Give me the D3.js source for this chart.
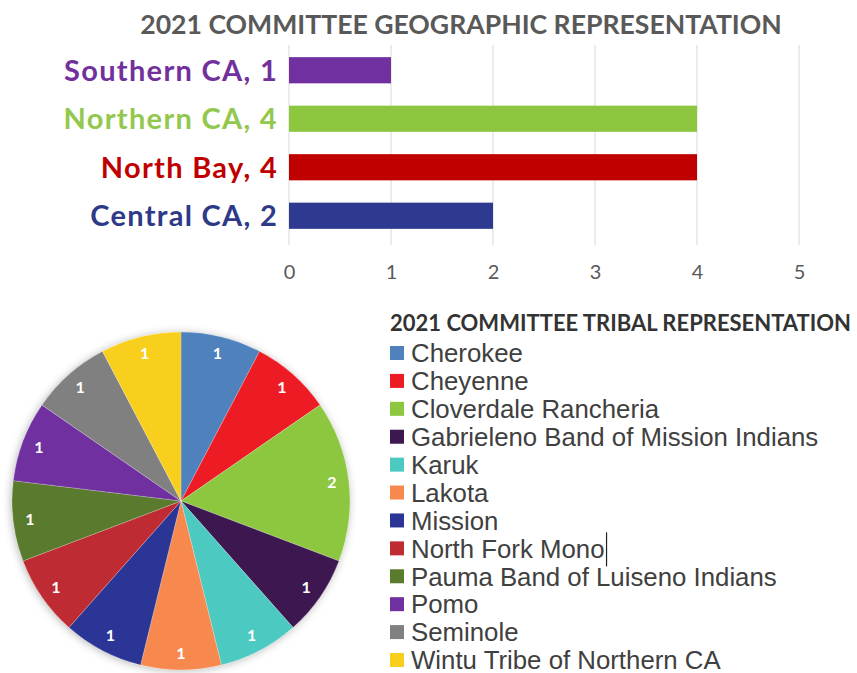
<!DOCTYPE html>
<html>
<head>
<meta charset="utf-8">
<script src="https://cdn.jsdelivr.net/npm/d3@7"></script>
<style>
  html, body { margin: 0; padding: 0; background: #fff; }
  svg { display: block; }
</style>
</head>
<body>
<svg id="chart" width="857" height="673"></svg>
<script>
// Geographic representation (bar chart)
const regions = ["Southern CA", "Northern CA", "North Bay", "Central CA"];
const regionCounts = [1, 4, 4, 2];
const regionColors = ["#7030A0", "#8DC63F", "#C00000", "#2E3A8F"];
const regionLabelColors = ["#71309C", "#92C84E", "#C00000", "#2E3A87"];
const xTicks = [0, 1, 2, 3, 4, 5];

// Tribal representation (pie chart)
const tribes = ["Cherokee", "Cheyenne", "Cloverdale Rancheria", "Gabrieleno Band of Mission Indians",
  "Karuk", "Lakota", "Mission", "North Fork Mono", "Pauma Band of Luiseno Indians", "Pomo",
  "Seminole", "Wintu Tribe of Northern CA"];
const tribeCounts = [1, 1, 2, 1, 1, 1, 1, 1, 1, 1, 1, 1];
const tribeColors = ["#4F81BD", "#ED1C24", "#8DC63F", "#3D1850", "#4CC9C0", "#F7894F",
  "#2B3595", "#BE2B33", "#5A7A2D", "#7030A0", "#808080", "#F8CF1C"];

const svg = d3.select("#chart");

// ---------- Bar chart ----------
const x = d3.scaleLinear().domain([0, 5]).range([289, 799]);
const y = d3.scaleBand().domain(regions).range([46, 240]).paddingInner(0.46).paddingOuter(0.23);

svg.append("text")
  .attr("x", 461).attr("y", 34)
  .attr("text-anchor", "middle")
  .attr("font-family", "Lato, 'Open Sans', sans-serif")
  .attr("font-weight", 700)
  .attr("font-size", 26.6)
  .attr("fill", "#595959")
  .text("2021 COMMITTEE GEOGRAPHIC REPRESENTATION");

// vertical gridlines
svg.append("g").selectAll("line").data(xTicks).join("line")
  .attr("x1", d => x(d)).attr("x2", d => x(d))
  .attr("y1", 45).attr("y2", 245)
  .attr("stroke", "#D9D9D9").attr("stroke-width", 1);

// tick labels
const xAxis = svg.append("g").attr("transform", "translate(0,265)")
  .call(d3.axisBottom(x).tickValues(xTicks).tickSize(0).tickPadding(0).tickFormat(d3.format("d")));
xAxis.select(".domain").remove();
xAxis.selectAll("text")
  .attr("font-family", "Lato, 'Open Sans', sans-serif")
  .attr("font-size", 20)
  .attr("fill", "#595959")
  .attr("dy", "0.71em");

const regionData = regions.map((r, i) => ({ r, v: regionCounts[i], c: regionColors[i], lc: regionLabelColors[i] }));

svg.append("g").selectAll("rect").data(regionData).join("rect")
  .attr("x", x(0))
  .attr("y", d => y(d.r))
  .attr("width", d => x(d.v) - x(0))
  .attr("height", y.bandwidth())
  .attr("fill", d => d.c);

svg.append("g").selectAll("text").data(regionData).join("text")
  .attr("x", 278)
  .attr("y", d => y(d.r) + y.bandwidth() / 2)
  .attr("dy", "0.36em")
  .attr("text-anchor", "end")
  .attr("font-family", "Lato, 'Open Sans', sans-serif")
  .attr("font-weight", 700)
  .attr("font-size", 29)
  .attr("letter-spacing", 1.3)
  .attr("fill", d => d.lc)
  .text(d => `${d.r}, ${d.v}`);

// ---------- Pie chart ----------
const defs = svg.append("defs");
const f = defs.append("filter").attr("id", "glow").attr("x", "-15%").attr("y", "-15%").attr("width", "130%").attr("height", "130%");
f.append("feDropShadow").attr("dx", -1).attr("dy", 1).attr("stdDeviation", 4)
  .attr("flood-color", "#000").attr("flood-opacity", 0.28);

const cx = 181, cy = 501, R = 169;
const tribeData = tribes.map((t, i) => ({ t, v: tribeCounts[i], c: tribeColors[i] }));
const pie = d3.pie().value(d => d.v).sort(null);
const arcs = pie(tribeData);
const arc = d3.arc().innerRadius(0).outerRadius(R);
const labelArc = d3.arc().innerRadius(R * 0.9).outerRadius(R * 0.9);

const pg = svg.append("g").attr("transform", `translate(${cx},${cy})`);
pg.append("circle").attr("r", R).attr("fill", "#fff").attr("filter", "url(#glow)");
pg.selectAll("path").data(arcs).join("path")
  .attr("d", arc)
  .attr("fill", d => d.data.c)
  .attr("stroke", "rgba(255,255,255,0.35)")
  .attr("stroke-width", 0.6);

pg.selectAll("text").data(arcs).join("text")
  .attr("transform", d => `translate(${labelArc.centroid(d)})`)
  .attr("text-anchor", "middle")
  .attr("dy", "0.36em")
  .attr("font-family", "Lato, 'Open Sans', sans-serif")
  .attr("font-weight", 700)
  .attr("font-size", 16)
  .attr("fill", "#fff")
  .text(d => d.data.v);

// ---------- Legend ----------
svg.append("text")
  .attr("x", 390).attr("y", 331)
  .attr("font-family", "Lato, 'Open Sans', sans-serif")
  .attr("font-weight", 700)
  .attr("font-size", 22)
  .attr("fill", "#333333")
  .text("2021 COMMITTEE TRIBAL REPRESENTATION");

const ly = d3.scalePoint().domain(tribes).range([353, 660]);
const lg = svg.append("g").selectAll("g").data(tribeData).join("g")
  .attr("transform", d => `translate(390,${ly(d.t)})`);
lg.append("rect").attr("x", 0).attr("y", -7).attr("width", 14).attr("height", 14).attr("fill", d => d.c);
lg.append("text")
  .attr("x", 21).attr("dy", "0.36em")
  .attr("font-family", "'Liberation Sans', Arial, sans-serif")
  .attr("font-size", 25.8)
  .attr("fill", "#404040")
  .text(d => d.t);

// text caret after "North Fork Mono"
const nfm = lg.filter(d => d.t === "North Fork Mono");
const nfmLen = nfm.select("text").node().getComputedTextLength();
nfm.append("line")
  .attr("x1", 21 + nfmLen + 2).attr("x2", 21 + nfmLen + 2)
  .attr("y1", -16).attr("y2", 18)
  .attr("stroke", "#222").attr("stroke-width", 1.2);
</script>
</body>
</html>
